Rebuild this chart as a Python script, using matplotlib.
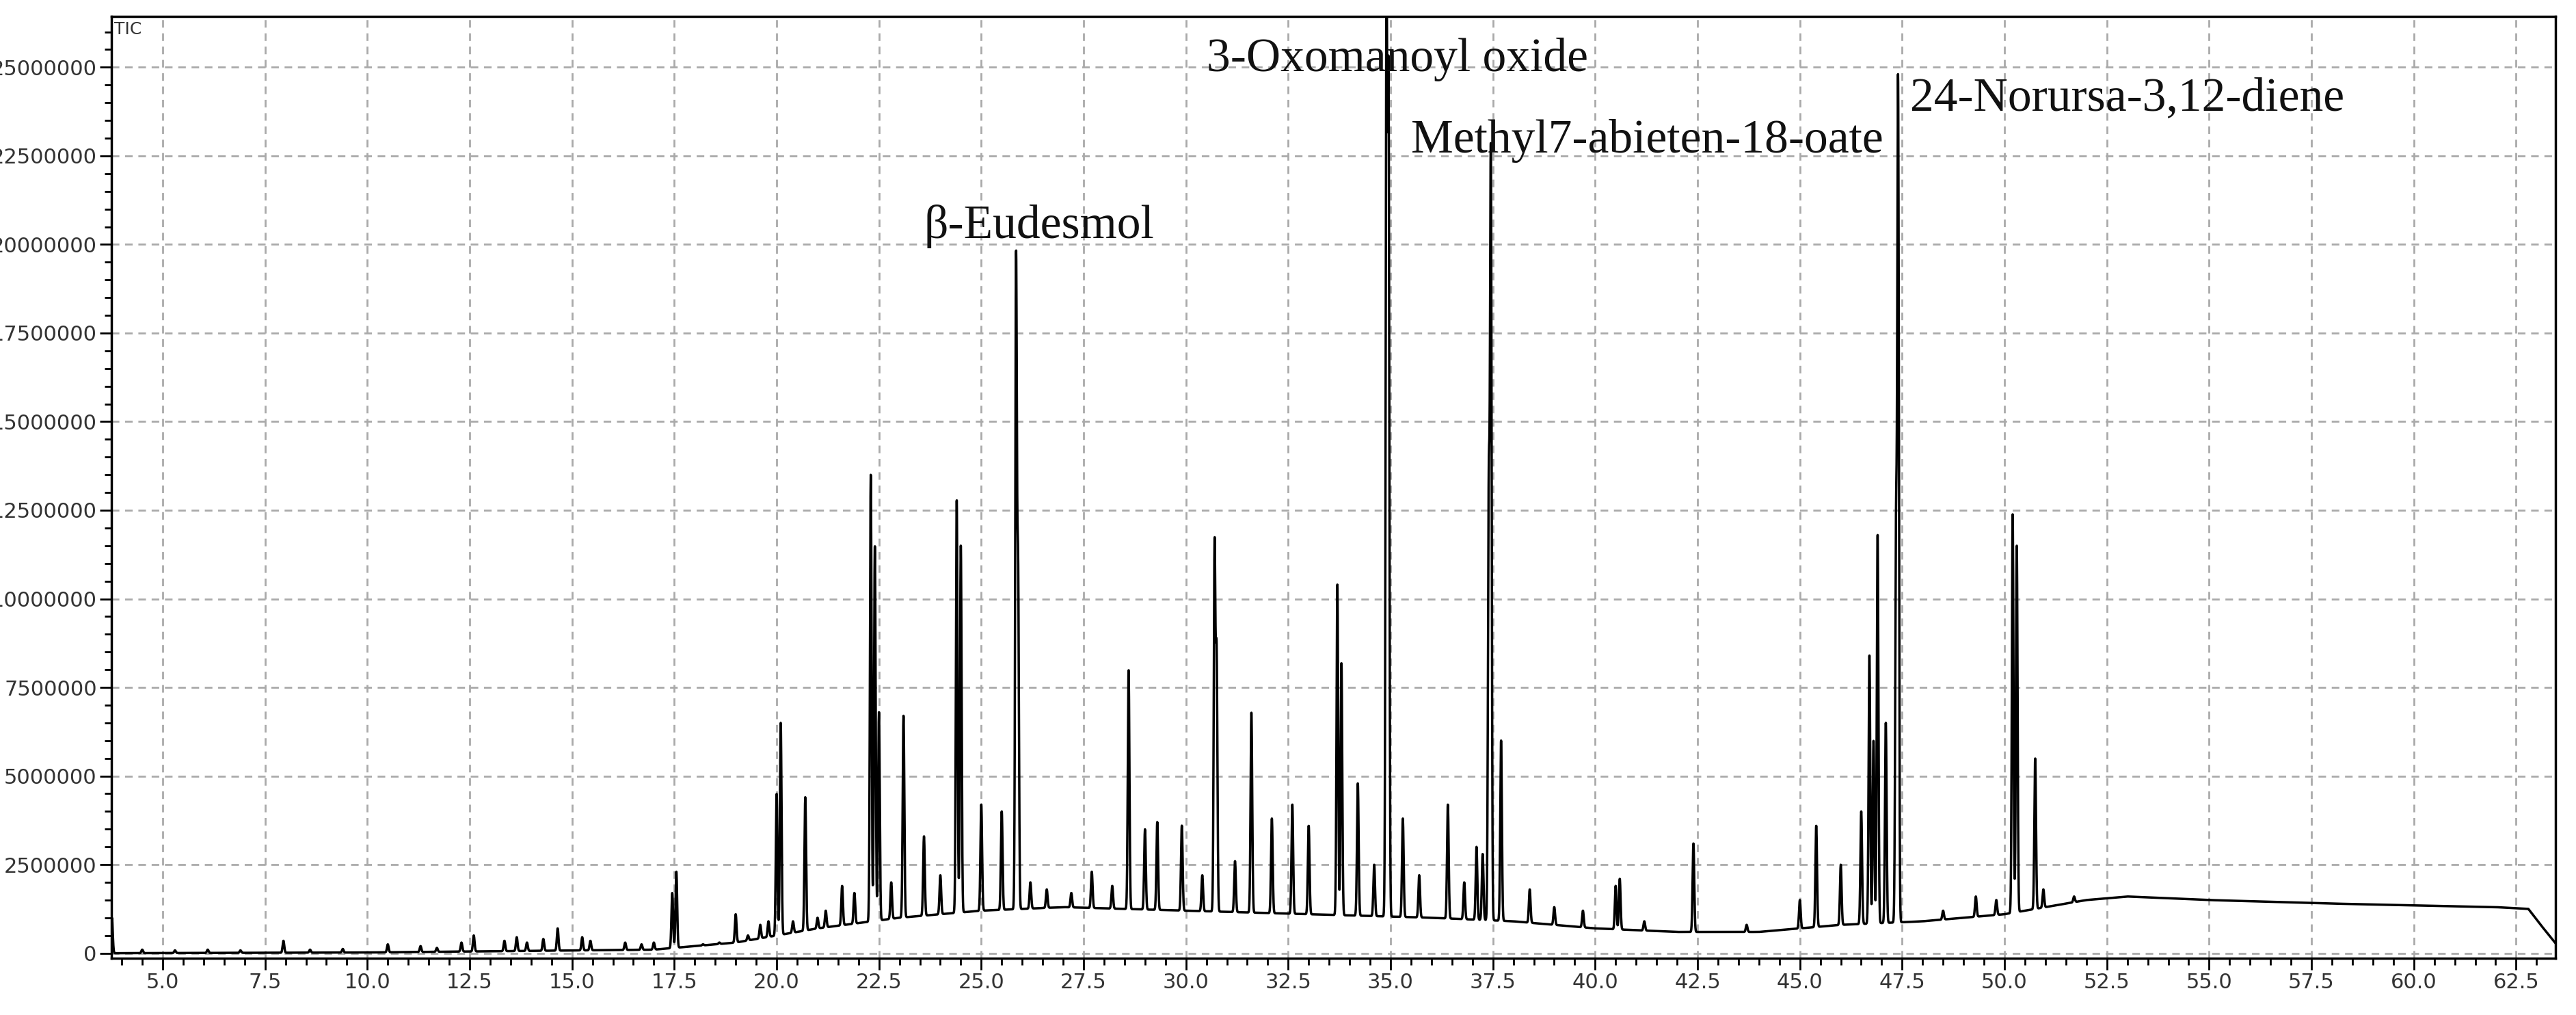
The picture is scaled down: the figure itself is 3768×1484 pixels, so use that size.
import numpy as np
import matplotlib
matplotlib.use("Agg")
import matplotlib.pyplot as plt
from matplotlib.ticker import MultipleLocator

base_rt = [3.75, 10, 17, 19, 21, 23, 25, 27, 30, 33, 36, 38, 40, 42, 44, 46, 48, 50, 52, 53, 55, 58, 62, 62.8, 63.1, 63.45]
base_y  = [0, 0.02e6, 0.1e6, 0.3e6, 0.7e6, 1.0e6, 1.2e6, 1.3e6, 1.2e6, 1.1e6, 1.0e6, 0.9e6, 0.7e6, 0.6e6, 0.6e6, 0.8e6, 0.9e6, 1.1e6, 1.5e6, 1.6e6, 1.5e6, 1.4e6, 1.3e6, 1.25e6, 0.8e6, 0.3e6]

peak_rt = [3.76, 7.95, 10.5, 12.3, 12.6, 13.35, 13.65, 13.9, 14.3, 14.65, 15.25, 15.45, 16.3, 17.45, 17.55, 19.0, 19.6, 19.8,
           20.0, 20.1, 20.4, 20.7, 21.2, 21.6, 21.9, 22.3, 22.4, 22.5, 22.8, 23.1, 23.6, 24.0, 24.4, 24.5, 25.0, 25.5,
           25.85, 25.9, 26.2, 26.6, 27.2, 27.7, 28.2, 28.6, 29.0, 29.3, 29.9, 30.4, 30.7, 30.75, 31.2, 31.6, 32.1, 32.6,
           33.0, 33.7, 33.8, 34.2, 34.6, 34.9, 34.95, 35.3, 35.7, 36.4, 36.8, 37.1, 37.25, 37.4, 37.45, 37.7, 38.4, 39.0,
           39.7, 40.5, 40.6, 41.2, 42.4, 43.7, 45.0, 45.4, 46.0, 46.5, 46.7, 46.8, 46.9, 47.1, 47.35, 47.4, 48.5,
           49.3, 49.8, 50.2, 50.3, 50.75, 50.95, 51.7,
           4.5, 5.3, 6.1, 6.9, 8.6, 9.4, 11.3, 11.7, 16.7, 17.0, 18.2, 18.6, 19.3, 21.0]
peak_h  = [1.0e6, 0.35e6, 0.25e6, 0.3e6, 0.5e6, 0.35e6, 0.45e6, 0.3e6, 0.4e6, 0.7e6, 0.45e6, 0.35e6, 0.3e6, 1.7e6, 2.3e6, 1.1e6, 0.8e6, 0.9e6,
           4.5e6, 6.5e6, 0.9e6, 4.4e6, 1.2e6, 1.9e6, 1.7e6, 13.5e6, 11.5e6, 6.8e6, 2.0e6, 6.7e6, 3.3e6, 2.2e6, 12.8e6, 11.5e6, 4.2e6, 4.0e6,
           19.4e6, 10.5e6, 2.0e6, 1.8e6, 1.7e6, 2.3e6, 1.9e6, 8.0e6, 3.5e6, 3.7e6, 3.6e6, 2.2e6, 11.4e6, 8.3e6, 2.6e6, 6.8e6, 3.8e6, 4.2e6,
           3.6e6, 10.4e6, 8.2e6, 4.8e6, 2.5e6, 26.6e6, 24.0e6, 3.8e6, 2.2e6, 4.2e6, 2.0e6, 3.0e6, 2.8e6, 12.9e6, 22.3e6, 6.0e6, 1.8e6, 1.3e6,
           1.2e6, 1.9e6, 2.1e6, 0.9e6, 3.1e6, 0.8e6, 1.5e6, 3.6e6, 2.5e6, 4.0e6, 8.4e6, 6.0e6, 11.8e6, 6.5e6, 11.6e6, 24.3e6, 1.2e6,
           1.6e6, 1.5e6, 12.4e6, 11.5e6, 5.5e6, 1.8e6, 1.6e6,
           0.1e6, 0.08e6, 0.1e6, 0.08e6, 0.1e6, 0.12e6, 0.2e6, 0.15e6, 0.25e6, 0.3e6, 0.25e6, 0.3e6, 0.5e6, 1.0e6]

x_ticks = [5.0, 7.5, 10.0, 12.5, 15.0, 17.5, 20.0, 22.5, 25.0, 27.5, 30.0, 32.5, 35.0, 37.5, 40.0, 42.5, 45.0, 47.5, 50.0, 52.5, 55.0, 57.5, 60.0, 62.5]
y_ticks = [0, 2500000, 5000000, 7500000, 10000000, 12500000, 15000000, 17500000, 20000000, 22500000, 25000000]

labels = ["β-Eudesmol", "3-Oxomanoyl oxide", "Methyl7-abieten-18-oate", "24-Norursa-3,12-diene"]
label_rt = [23.6, 30.5, 35.5, 47.7]
label_y = [19.9e6, 24.6e6, 22.3e6, 23.5e6]

t = np.linspace(3.75, 63.45, 20000)
sig = np.interp(t, base_rt, base_y)
for r, h in zip(peak_rt, peak_h):
    b = np.interp(r, base_rt, base_y)
    sig += max(h - b, 0) * np.exp(-0.5 * ((t - r) / 0.02) ** 2)

fig = plt.figure(figsize=(37.68, 14.84), dpi=100)
ax = fig.add_axes([0.0433, 0.056, 0.9487, 0.928])
ax.plot(t, sig, color="black", lw=2.5)
ax.set_xlim(3.75, 63.46)
ax.set_ylim(-0.14e6, 26.44e6)
ax.set_xticks(x_ticks)
ax.set_xticklabels([f"{v:.1f}" for v in x_ticks])
ax.set_yticks(y_ticks)
ax.set_yticklabels([str(v) for v in y_ticks])
ax.xaxis.set_minor_locator(MultipleLocator(0.5))
ax.yaxis.set_minor_locator(MultipleLocator(500000))
ax.tick_params(which="major", direction="out", length=12, width=2, labelsize=22, colors="black", labelcolor="#333333")
ax.tick_params(which="minor", direction="out", length=7, width=2)
ax.grid(True, which="major", color="#aaaaaa", ls=(0, (4, 3)), lw=2)
for s in ax.spines.values():
    s.set_linewidth(2.5)
ax.text(0.001, 0.995, "TIC", transform=ax.transAxes, ha="left", va="top", fontsize=18, color="#333333")
for lab, x, y in zip(labels, label_rt, label_y):
    ax.text(x, y, lab, fontsize=50, family="Liberation Serif", ha="left", va="bottom", color="#111111")
fig.savefig("out.png", dpi=100)
